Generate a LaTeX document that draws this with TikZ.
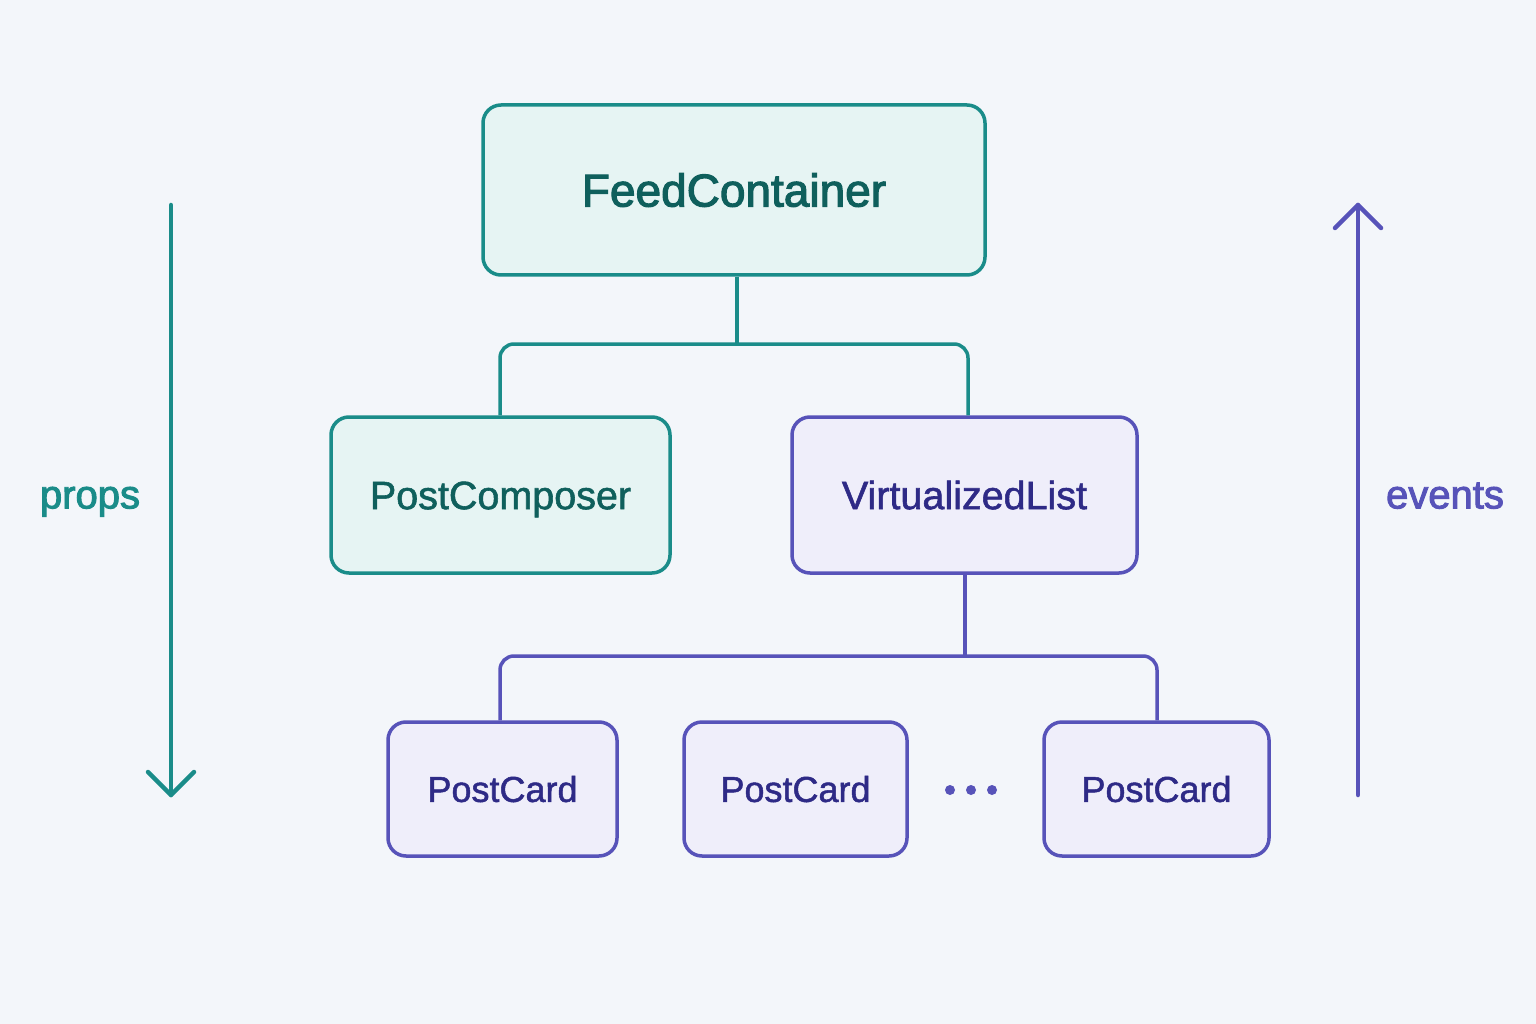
\documentclass[tikz,border=0pt]{standalone}
\usepackage{fontspec}
\setmainfont{Liberation Sans}
\newfontfamily\semib[FakeBold=2.4]{Liberation Sans}
\newfontfamily\medf[FakeBold=1.4]{Liberation Sans}
\usetikzlibrary{arrows.meta}
\definecolor{bg}{HTML}{F3F6FA}
\definecolor{tealS}{HTML}{1A8C89}
\definecolor{tealT}{HTML}{0F5F5C}
\definecolor{tealF}{HTML}{E6F4F3}
\definecolor{purS}{HTML}{5753B9}
\definecolor{purT}{HTML}{2E2A86}
\definecolor{purF}{HTML}{EFEEFA}
\begin{document}
\begin{tikzpicture}[x=1pt,y=-1pt,
  boxbase/.style={line width=3.5pt, rounded corners=18pt, inner sep=0pt, text depth=0pt},
  tbox/.style={boxbase, draw=tealS, fill=tealF, text=tealT},
  pbox/.style={boxbase, draw=purS, fill=purF, text=purT},
  big/.style={font=\semib\fontsize{46}{50}\selectfont, text height=33pt},
  mid/.style={font=\medf\fontsize{39.5}{44}\selectfont, text height=28.3pt},
  small/.style={font=\medf\fontsize{36}{40}\selectfont, text height=25.8pt},
  tlink/.style={draw=tealS, line width=3.5pt, rounded corners=14pt},
  plink/.style={draw=purS, line width=3.5pt, rounded corners=14pt},
  flow/.style={line width=4.5pt, line cap=round, line join=round},
  side/.style={font=\semib\fontsize{40}{44}\selectfont, anchor=center, inner sep=0pt, text height=20.8pt, text depth=0pt}]
\fill[bg] (0,0) rectangle (1536,1024);
\useasboundingbox (0,0) rectangle (1536,1024);

\node[tbox, big, minimum width=502pt, minimum height=170pt] (fc) at (734,190) {FeedContainer};
\node[tbox, mid, minimum width=339pt, minimum height=156pt] (pc) at (500.5,495) {PostComposer};
\node[pbox, mid, minimum width=345pt, minimum height=156pt] (vl) at (964.5,495) {VirtualizedList};
\node[pbox, small, minimum width=229pt, minimum height=134pt] (c1) at (502.5,789) {PostCard};
\node[pbox, small, minimum width=223pt, minimum height=134pt] (c2) at (795.5,789) {PostCard};
\node[pbox, small, minimum width=225pt, minimum height=134pt] (c3) at (1156.5,789) {PostCard};

\foreach \i/\xx in {1/950,2/971,3/992}
  \fill[purS] (\xx,790) circle (5pt) coordinate (dot\i);

% connectors
\coordinate (j1) at (737,344);
\draw[tlink] (fc.south -| j1) -- (j1);
\draw[tlink] (j1) -| (pc.north -| 500,0);
\draw[tlink] (j1) -| (vl.north -| 968,0);

\coordinate (j2) at (965,656);
\draw[plink] (vl.south -| j2) -- (j2);
\draw[plink] (j2) -| (c1.north -| 500,0);
\draw[plink] (j2) -| (c3.north -| 1157,0);
\draw[plink] (c2.north -| 798,656) -- (c2.north -| 798,0);

% props arrow
\coordinate (pt) at (171,205);
\coordinate (pb) at (171,795);
\draw[flow, draw=tealS] (pt) -- (pb);
\draw[flow, draw=tealS] (148,772) -- (pb) -- (194,772);
\node[side, text=tealS] (props) at (90,498) {props};

% events arrow
\coordinate (eb) at (1358,795);
\coordinate (et) at (1358,205);
\draw[flow, draw=purS] (eb) -- (et);
\draw[flow, draw=purS] (1335,228) -- (et) -- (1381,228);
\node[side, text=purS] (events) at (1445,498) {events};
\end{tikzpicture}
\end{document}
